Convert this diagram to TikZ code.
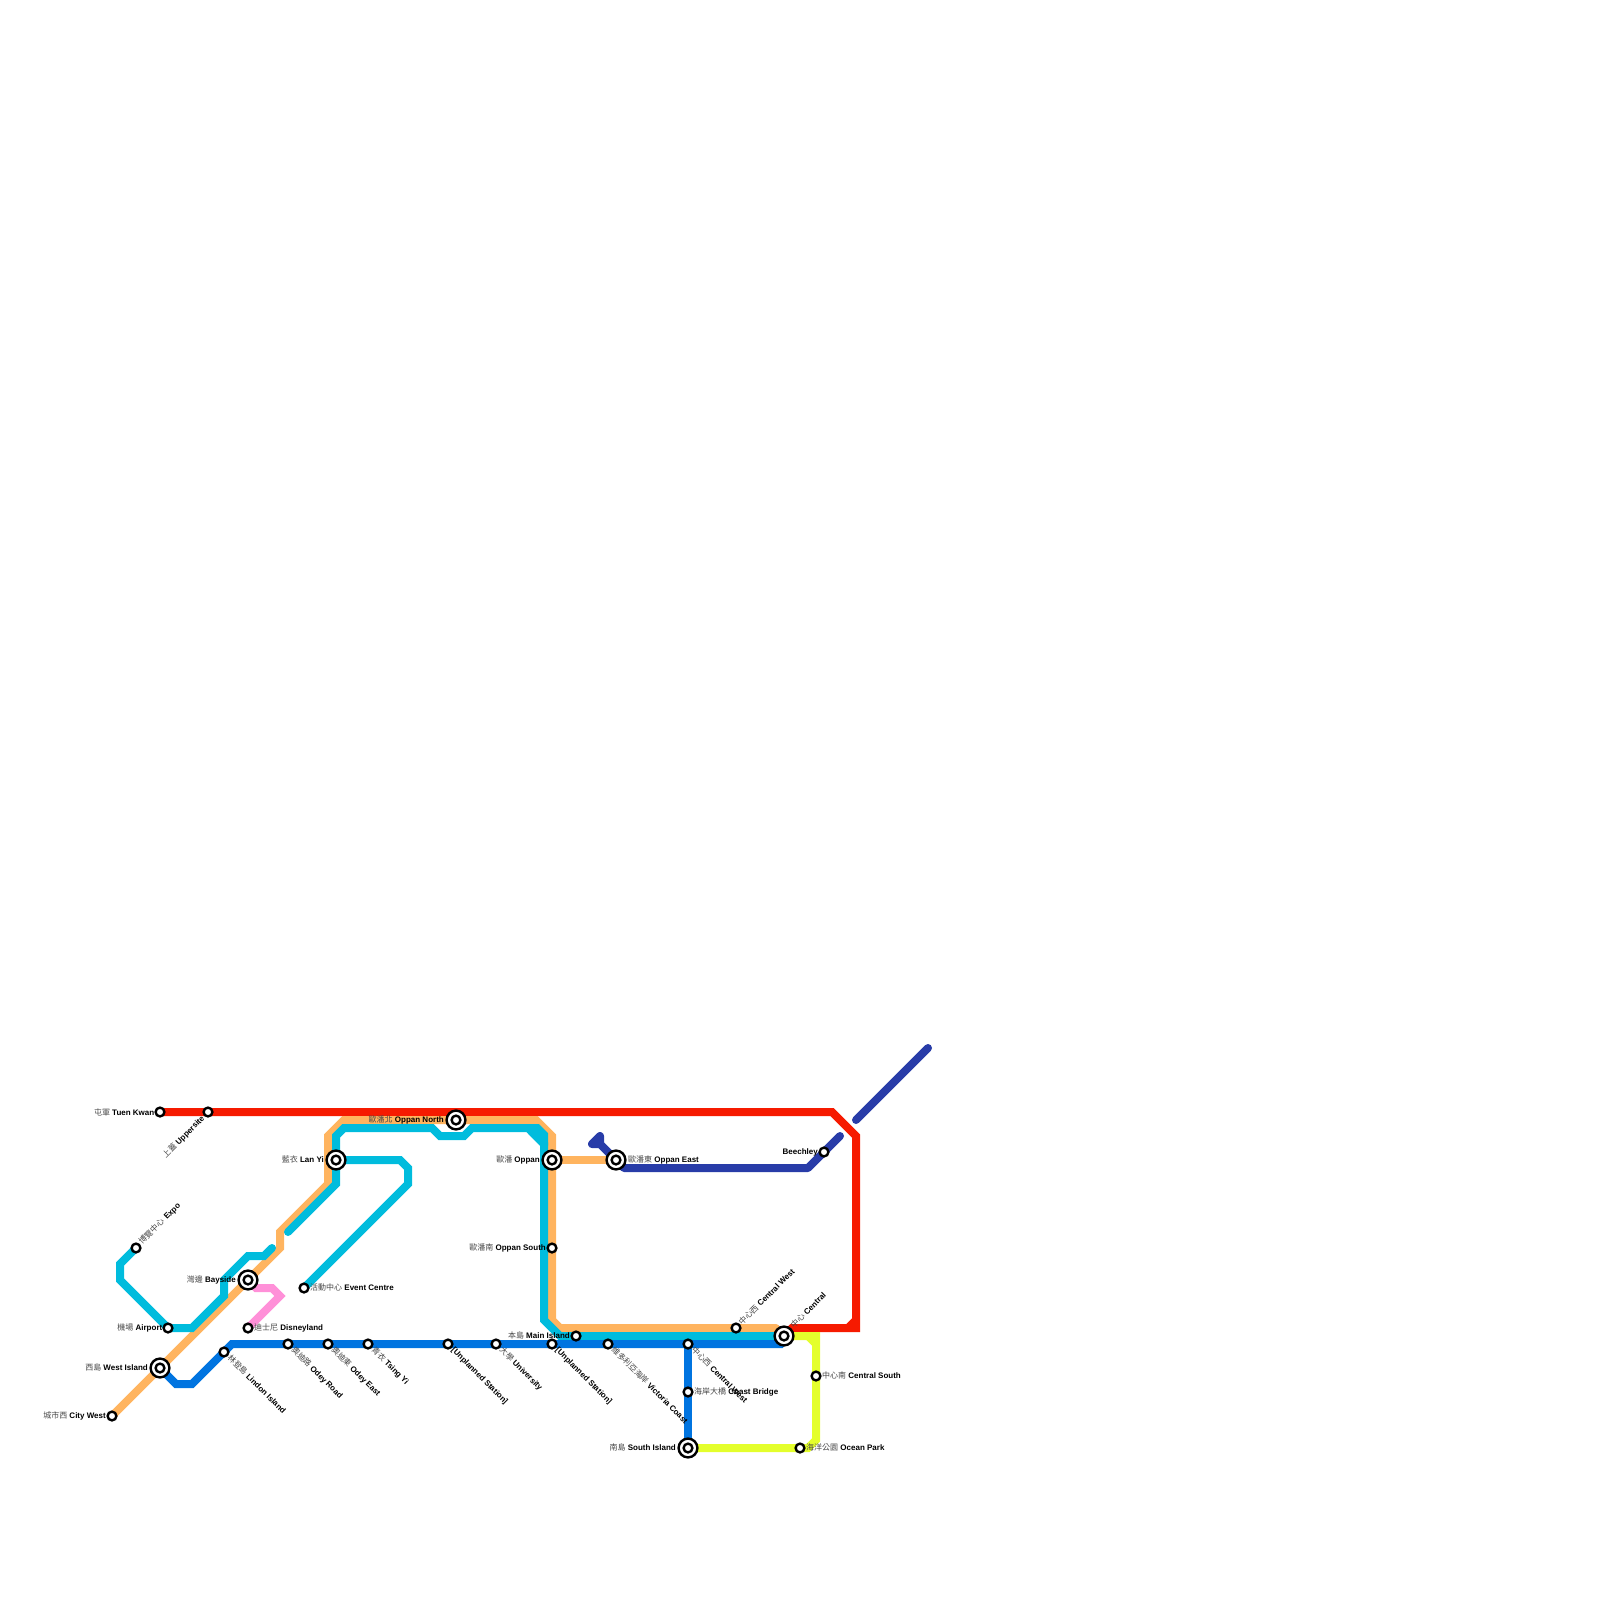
\documentclass[tikz,border=0pt]{standalone}
\usepackage{fontspec}
\setmainfont{Liberation Sans}
\newfontfamily\cjk{Noto Sans CJK TC}
\newcommand{\zh}[1]{{\cjk\mdseries\color{black!72}#1}}
\pgfdeclarelayer{lines}
\pgfsetlayers{lines,main}
\definecolor{redline}{HTML}{F61A00}
\definecolor{orangeline}{HTML}{FFB45F}
\definecolor{cyanline}{HTML}{00BCDD}
\definecolor{blueline}{HTML}{0074E0}
\definecolor{navyline}{HTML}{283CA8}
\definecolor{pinkline}{HTML}{FF90D8}
\definecolor{yellowline}{HTML}{E4FF2C}
\tikzset{
  track/.style={line width=8pt,line join=miter,line cap=round},
  stop/.style={circle,draw=black,fill=white,line width=2.4pt,minimum size=8.8pt,inner sep=0pt},
  hub/.style={circle,draw=black,fill=white,line width=2.4pt,minimum size=18.8pt,inner sep=0pt},
  lblleft/.style={anchor=base east,inner sep=0pt,font=\fontsize{8}{9.6}\selectfont\bfseries},
  lblright/.style={anchor=base west,inner sep=0pt,font=\fontsize{8}{9.6}\selectfont\bfseries},
  lblup/.style={lblright,rotate=45},
  lbldown/.style={lblright,rotate=-45},
  lblupend/.style={lblleft,rotate=45},
}
\begin{document}
\begin{tikzpicture}[x=1pt,y=-1pt]
\path[use as bounding box] (0,0) rectangle (1600,1600);
% stations
\node[stop] (tuenkwan) at (160,1112) {};
\node[stop] (uppersite) at (208,1112) {};
\node[stop] (expo) at (136,1248) {};
\node[hub] (bayside) at (248,1280) {};
\node[stop] (baysidein) at (bayside.center) {};
\node[hub] (lanyi) at (336,1160) {};
\node[stop] (lanyiin) at (lanyi.center) {};
\node[hub] (oppannorth) at (456,1120) {};
\node[stop] (oppannorthin) at (oppannorth.center) {};
\node[hub] (oppan) at (552,1160) {};
\node[stop] (oppanin) at (oppan.center) {};
\node[hub] (oppaneast) at (616,1160) {};
\node[stop] (oppaneastin) at (oppaneast.center) {};
\node[stop] (oppansouth) at (552,1248) {};
\node[stop] (eventcentre) at (304,1288) {};
\node[stop] (airport) at (168,1328) {};
\node[stop] (disneyland) at (248,1328) {};
\node[hub] (westisland) at (160,1368) {};
\node[stop] (westislandin) at (westisland.center) {};
\node[stop] (citywest) at (112,1416) {};
\node[stop] (lindon) at (224,1352) {};
\node[stop] (odeyroad) at (288,1344) {};
\node[stop] (odeyeast) at (328,1344) {};
\node[stop] (tsingyi) at (368,1344) {};
\node[stop] (unplannedA) at (448,1344) {};
\node[stop] (university) at (496,1344) {};
\node[stop] (unplannedB) at (552,1344) {};
\node[stop] (mainisland) at (576,1336) {};
\node[stop] (victoria) at (608,1344) {};
\node[stop] (centralwestA) at (736,1328) {};
\node[stop] (centralwestB) at (688,1344) {};
\node[stop] (coastbridge) at (688,1392) {};
\node[hub] (southisland) at (688,1448) {};
\node[stop] (southislandin) at (southisland.center) {};
\node[stop] (oceanpark) at (800,1448) {};
\node[stop] (centralsouth) at (816,1376) {};
\node[hub] (central) at (784,1336) {};
\node[stop] (centralin) at (central.center) {};
\node[stop] (beechley) at (824,1152) {};
\coordinate (navystart) at (856,1120);
\coordinate (navyend) at (928,1048);
\coordinate (cyanend) at (272,1248);
\coordinate (cyanstart) at (288,1232);
% lines
\begin{pgfonlayer}{lines}
\draw[track,redline] (tuenkwan.center) -- (832,1112) -- (856,1136) -- (856,1328) -- (792,1328) -- (central.center);
\draw[track,redline,line cap=butt] (856,1320) -- (848,1328);
\draw[track,orangeline] (citywest.center) -- (280,1248) -- (280,1232) -- (328,1184) -- (328,1136) -- (344,1120) -- (536,1120) -- (552,1136) -- (552,1320) -- (560,1328) -- (776,1328);
\draw[track,orangeline] (oppan.center) -- (oppaneast.center);
\draw[track,yellowline] (southisland.center) -- (808,1448) -- (816,1440) -- (816,1336) -- (central.center);
\draw[track,yellowline,line cap=butt] (808,1336) -- (816,1344);
\draw[track,cyanline] (expo.center) -- (120,1264) -- (120,1280) -- (168,1328) -- (192,1328) -- (224,1296) -- (224,1280) -- (248,1256) -- (264,1256) -- (cyanend);
\draw[track,cyanline] (cyanstart) -- (336,1184) -- (336,1136) -- (344,1128) -- (432,1128) -- (440,1136) -- (464,1136) -- (472,1128) -- (528,1128) -- (544,1144) -- (544,1320) -- (560,1336) -- (central.center);
\fill[cyanline] (528,1124) -- (539,1124) -- (548,1133) -- (548,1145.6) -- (540,1145.6) -- (528,1133.6) -- cycle;
\draw[track,cyanline] (eventcentre.center) -- (408,1184) -- (408,1168) -- (400,1160) -- (lanyi.center);
\draw[track,blueline] (westisland.center) -- (176,1384) -- (192,1384) -- (232,1344) -- (781,1344) -- (784,1341) -- (central.center);
\draw[track,blueline] (southisland.center) -- (688,1352) -- (centralwestB.center);
\draw[track,navyline] (beechley.center) -- (840,1136);
\draw[track,navyline,line join=round] (beechley.center) -- (808,1168) -- (624,1168) -- (oppaneast.center) -- (600,1144) -- (592,1144) -- (600,1136) -- (600,1144);
\draw[track,navyline] (navystart) -- (navyend);
\draw[track,pinkline] (disneyland.center) -- (280,1296) -- (272,1288) -- (256,1288) -- (bayside.center);
\end{pgfonlayer}
% labels
\node[lblleft] (tuenkwanlbl) at (154.5,1115) {\zh{屯軍} Tuen Kwan};
\node[lblupend] (uppersitelbl) at (205,1119) {\zh{上蓋} Uppersite};
\node[lblup] (expolbl) at (142,1245) {\zh{博覽中心}\ \hspace{1pt}Expo};
\node[lblleft] (baysidelbl) at (236,1282) {\zh{灣邊} Bayside};
\node[lblleft] (lanyilbl) at (324,1162) {\zh{藍衣} Lan Yi};
\node[lblleft] (oppannorthlbl) at (444,1122) {\zh{歐潘北} Oppan North};
\node[lblleft] (oppanlbl) at (540,1162) {\zh{歐潘} Oppan};
\node[lblright] (oppaneastlbl) at (628,1162) {\zh{歐潘東} Oppan East};
\node[lblleft] (oppansouthlbl) at (546,1250) {\zh{歐潘南} Oppan South};
\node[lblright] (eventcentrelbl) at (310,1290.5) {\zh{活動中心} Event Centre};
\node[lblleft] (airportlbl) at (162.5,1330) {\zh{機場} Airport};
\node[lblright] (disneylandlbl) at (254,1330) {\zh{迪士尼} Disneyland};
\node[lblleft] (westislandlbl) at (148,1370) {\zh{西島} West Island};
\node[lblleft] (citywestlbl) at (106,1418) {\zh{城市西} City West};
\node[lbldown] (lindonlbl) at (227,1358.5) {\zh{林登島} Lindon Island};
\node[lbldown] (odeyroadlbl) at (291,1350.5) {\zh{奧迪路} Odey Road};
\node[lbldown] (odeyeastlbl) at (331,1350.5) {\zh{奧迪東} Odey East};
\node[lbldown] (tsingyilbl) at (371,1350.5) {\zh{青衣} Tsing Yi};
\node[lbldown] (unplannedAlbl) at (451,1350.5) {[Unplanned Station]};
\node[lbldown] (universitylbl) at (499,1350.5) {\zh{大學} University};
\node[lbldown] (unplannedBlbl) at (555,1350.5) {[Unplanned Station]};
\node[lblleft] (mainislandlbl) at (570,1338) {\zh{本島} Main Island};
\node[lbldown] (victorialbl) at (611,1350.5) {\zh{維多利亞海岸} Victoria Coast};
\node[lblup] (centralwestAlbl) at (742,1325.5) {\zh{中心西} Central West};
\node[lbldown] (centralwestBlbl) at (691,1350.5) {\zh{中心西} Central West};
\node[lblright] (coastbridgelbl) at (694,1394) {\zh{海岸大橋} Coast Bridge};
\node[lblleft] (southislandlbl) at (676,1450) {\zh{南島} South Island};
\node[lblright] (oceanparklbl) at (806,1450) {\zh{海洋公園} Ocean Park};
\node[lblright] (centralsouthlbl) at (822,1378) {\zh{中心南} Central South};
\node[lblup] (centrallbl) at (794,1328.5) {\zh{中心} Central};
\node[lblleft] (beechleylbl) at (818,1154) {Beechley};
\end{tikzpicture}
\end{document}
